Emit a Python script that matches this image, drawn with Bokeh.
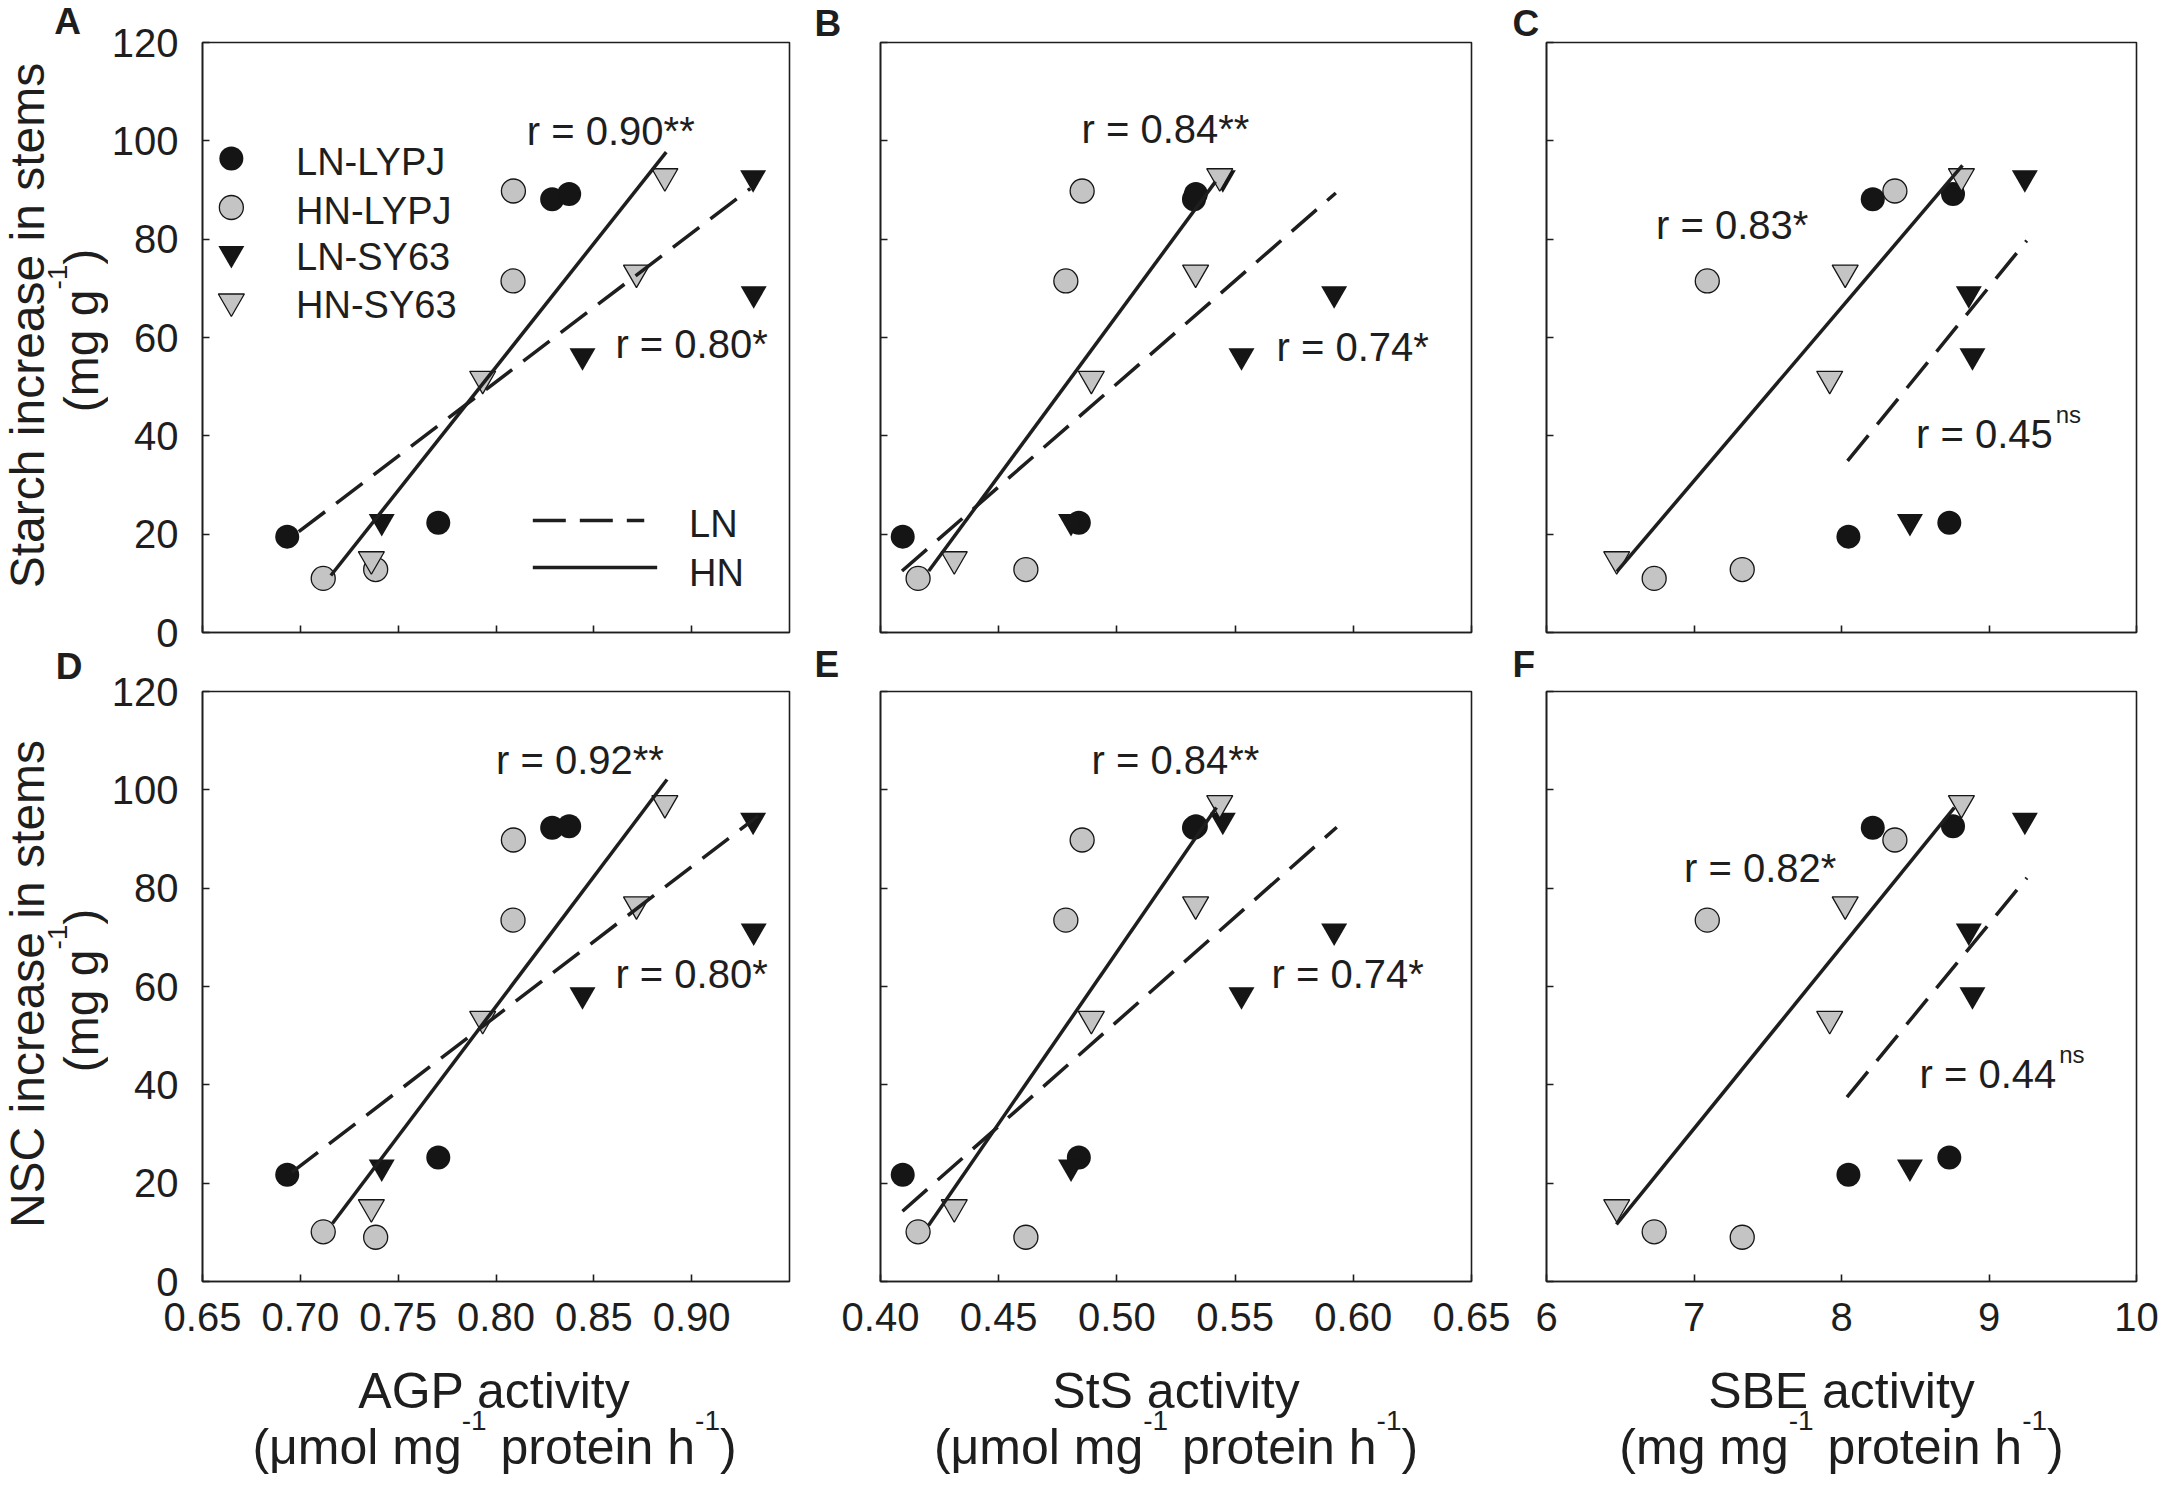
import math
from bokeh.plotting import figure
from bokeh.models import Range1d, FixedTicker, NumeralTickFormatter, Label, CustomJSTickFormatter, Title
from bokeh.layouts import column, row
from bokeh.embed import file_html
from bokeh.resources import INLINE

# ---------------- data ----------------
SERIES = ["LN-LYPJ", "HN-LYPJ", "LN-SY63", "HN-SY63"]

# enzyme activities (x) per series, 4 samples each
AGP_LN_LYPJ = [0.6933, 0.7705, 0.8287, 0.8374]
AGP_HN_LYPJ = [0.7117, 0.7385, 0.8087, 0.8089]
AGP_LN_SY63 = [0.7416, 0.8442, 0.9317, 0.9314]
AGP_HN_SY63 = [0.7363, 0.7932, 0.8718, 0.8863]

STS_LN_LYPJ = [0.4094, 0.4839, 0.5326, 0.5334]
STS_HN_LYPJ = [0.4159, 0.4615, 0.4784, 0.4853]
STS_LN_SY63 = [0.4806, 0.5527, 0.5919, 0.5448]
STS_HN_SY63 = [0.4312, 0.4892, 0.5333, 0.5435]

SBE_LN_LYPJ = [8.047, 8.731, 8.212, 8.756]
SBE_HN_LYPJ = [6.730, 7.327, 7.090, 8.362]
SBE_LN_SY63 = [8.464, 8.888, 8.863, 9.243]
SBE_HN_SY63 = [6.476, 7.920, 8.025, 8.813]

# starch increase (top row, y) and NSC increase (bottom row, y)
STARCH_LN_LYPJ = [19.5, 22.3, 88.1, 89.2]
STARCH_HN_LYPJ = [11.0, 12.8, 71.5, 89.8]
STARCH_LN_SY63 = [22.6, 56.3, 68.9, 92.5]
STARCH_HN_SY63 = [14.9, 51.6, 73.2, 92.8]

NSC_LN_LYPJ = [21.7, 25.2, 92.3, 92.6]
NSC_HN_LYPJ = [10.1, 9.0, 73.5, 89.8]
NSC_LN_SY63 = [23.3, 58.3, 71.3, 93.8]
NSC_HN_SY63 = [15.1, 53.4, 76.7, 97.3]

# regression lines (end points)
LINE_A_HN_X, LINE_A_HN_Y = [0.7156, 0.8870], [11.6, 97.7]
LINE_A_LN_X, LINE_A_LN_Y = [0.6992, 0.9300], [20.5, 90.3]
LINE_B_HN_X, LINE_B_HN_Y = [0.4204, 0.5417], [12.5, 91.7]
LINE_B_LN_X, LINE_B_LN_Y = [0.4091, 0.5926], [12.5, 89.4]
LINE_C_HN_X, LINE_C_HN_Y = [6.477, 8.820], [12.4, 95.0]
LINE_C_LN_X, LINE_C_LN_Y = [8.041, 9.256], [34.9, 79.7]
LINE_D_HN_X, LINE_D_HN_Y = [0.7164, 0.8874], [11.8, 102.1]
LINE_D_LN_X, LINE_D_LN_Y = [0.6956, 0.9340], [22.2, 94.7]
LINE_E_HN_X, LINE_E_HN_Y = [0.4203, 0.5421], [11.4, 96.4]
LINE_E_LN_X, LINE_E_LN_Y = [0.4093, 0.5930], [14.3, 92.4]
LINE_F_HN_X, LINE_F_HN_Y = [6.474, 8.765], [11.6, 96.4]
LINE_F_LN_X, LINE_F_LN_Y = [8.037, 9.257], [37.5, 82.1]

# correlation labels
R_A = ["r = 0.90**", "r = 0.80*"]
R_B = ["r = 0.84**", "r = 0.74*"]
R_C = ["r = 0.83*", "r = 0.45"]
R_D = ["r = 0.92**", "r = 0.80*"]
R_E = ["r = 0.84**", "r = 0.74*"]
R_F = ["r = 0.82*", "r = 0.44"]

# axes
Y_TICKS = [0, 20, 40, 60, 80, 100, 120]
AGP_TICKS = [0.65, 0.70, 0.75, 0.80, 0.85, 0.90]
STS_TICKS = [0.40, 0.45, 0.50, 0.55, 0.60, 0.65]
SBE_TICKS = [6, 7, 8, 9, 10]

X_TITLE_1 = ["AGP activity", "StS activity", "SBE activity"]
X_TITLE_2 = ["(μmol mg", "(μmol mg", "(mg mg"]
Y_TITLE_1 = ["Starch increase in stems", "NSC increase in stems"]
Y_TITLE_2 = "(mg g"
SUP = "-1"

# ---------------- styling / layout ----------------
FONT = "Liberation Sans"
TXT = "#1e1e1e"
BLACK = "#151515"
GRAY = "#c4c4c4"
PAGE = 8      # page margin: canvas = picture - 8
ASC = 0.78    # distance (em) from a "top"-anchored label to its baseline
MID_FIX = 3   # px: "middle" anchor sits a little above the digit centre

# reference-pixel frames (used to place annotation texts relative to the frames)
FRAME_X = [(207, 797), (888, 1479), (1560, 2150)]
FRAME_Y = [(50, 640), (699, 1289)]
TOTAL_W, TOTAL_H = 2159, 1476
GUTTER_W = 108
COL_W = [700, 703, 648]
COL_BL = [91, 72, 35]
COL_BR = [19, 40, 23]
TOP_H = 1350
# per column: (top fig height, top border, bottom border), (bottom fig height, top border, bottom border)
COL_ROWS = [((661, 42, 29), (689, 30, 69)),
            ((634, 42, 2), (716, 57, 69)),
            ((634, 42, 2), (716, 57, 69))]
LETTER_OFFSET = [None, -66, -34]
LETTER_STANDOFF = [-2, 13]


def frame_canvas_x(col):
    x0 = GUTTER_W + sum(COL_W[:col]) + COL_BL[col]
    return x0, x0 + COL_W[col] - COL_BL[col] - COL_BR[col]


W = {' ': 278, '(': 333, ')': 333, '-': 333, '1': 556, 'μ': 576, 'm': 833, 'o': 556, 'l': 222,
     'g': 556, 'p': 556, 'r': 333, 't': 278, 'e': 556, 'i': 222, 'n': 556, 'h': 556,
     's': 500, 'a': 556, 'c': 500, 'y': 500, 'v': 500, '.': 278, '=': 584, '*': 389}


def text_width(s, size):
    return sum(W.get(ch, 556) for ch in s) / 1000.0 * size


class Pan:
    def __init__(self, col, rowi, xr):
        self.col, self.rowi, self.xr = col, rowi, xr

    def px2data(self, sx, sy):
        fx0, fx1 = FRAME_X[self.col]
        fy0, fy1 = FRAME_Y[self.rowi]
        x = self.xr[0] + (sx - fx0) / (fx1 - fx0) * (self.xr[1] - self.xr[0])
        y = 120.0 * (fy1 - sy) / (fy1 - fy0)
        return x, y


def add_text(p, pan, sx, sy, text, size, align="left"):
    x, y = pan.px2data(sx, sy + MID_FIX)
    p.add_layout(Label(x=x, y=y, text=text, text_font=FONT, text_font_size=f"{size}px",
                       text_color=TXT, text_align=align, text_baseline="middle"))


def text_fig(w, h, x0, y0):
    """A figure without axes whose data coordinates are canvas pixels."""
    f = figure(width=w, height=h, x_range=Range1d(x0, x0 + w), y_range=Range1d(y0 + h, y0),
               x_axis_type=None, y_axis_type=None, output_backend="svg", toolbar_location=None,
               min_border_left=0, min_border_right=0, min_border_top=0, min_border_bottom=0)
    f.outline_line_color = None
    f.background_fill_color = "white"
    f.border_fill_color = "white"
    f.grid.visible = False
    return f


def canvas_label(f, cx, cy, text, size, align="left", baseline="top", angle=0.0, bold=False):
    f.add_layout(Label(x=cx, y=cy, text=text, text_font=FONT, text_font_size=f"{size}px",
                       text_color=TXT, text_align=align, text_baseline=baseline, angle=angle,
                       text_font_style="bold" if bold else "normal"))


def run_advance(t, s):
    return text_width(t, s)


def runs_h(f, cx, base_y, runs):
    """Horizontal text made of runs (text, size, rise) sharing one baseline.
    Leading spaces are turned into a cursor advance (SVG would collapse them)."""
    total = sum(text_width(t, s) for t, s, _ in runs)
    cur = cx - total / 2
    for t, s, rise in runs:
        stripped = t.lstrip(" ")
        cur += text_width(t[:len(t) - len(stripped)], s)
        canvas_label(f, cur, base_y - rise - ASC * s, stripped, s)
        cur += text_width(stripped, s)


def runs_v(f, base_x, cy, runs):
    """Same, rotated to read upwards; the top of the glyphs points left."""
    total = sum(text_width(t, s) for t, s, _ in runs)
    cur = cy + total / 2
    for t, s, rise in runs:
        stripped = t.lstrip(" ")
        cur -= text_width(t[:len(t) - len(stripped)], s)
        canvas_label(f, base_x - rise - ASC * s, cur, stripped, s, angle=math.pi / 2)
        cur -= text_width(stripped, s)


STYLES = [("circle", BLACK, BLACK, 0.0),
          ("circle", GRAY, BLACK, 1.3),
          ("inverted_triangle", BLACK, BLACK, 0.0),
          ("inverted_triangle", GRAY, BLACK, 1.3)]
SIZES = {"circle": 24, "inverted_triangle": 26}
LINE_W = 3.5
DASH = "33 14"

PANELS = [
    dict(key="A", col=0, rowi=0, xs=[AGP_LN_LYPJ, AGP_HN_LYPJ, AGP_LN_SY63, AGP_HN_SY63],
         ys=[STARCH_LN_LYPJ, STARCH_HN_LYPJ, STARCH_LN_SY63, STARCH_HN_SY63],
         xr=(0.65, 0.95), ticks=AGP_TICKS, fmt="0.00",
         hn=(LINE_A_HN_X, LINE_A_HN_Y), ln=(LINE_A_LN_X, LINE_A_LN_Y),
         r=R_A, rpos=[(533, 135), (622, 348)], ns=False),
    dict(key="B", col=1, rowi=0, xs=[STS_LN_LYPJ, STS_HN_LYPJ, STS_LN_SY63, STS_HN_SY63],
         ys=[STARCH_LN_LYPJ, STARCH_HN_LYPJ, STARCH_LN_SY63, STARCH_HN_SY63],
         xr=(0.40, 0.65), ticks=STS_TICKS, fmt="0.00",
         hn=(LINE_B_HN_X, LINE_B_HN_Y), ln=(LINE_B_LN_X, LINE_B_LN_Y),
         r=R_B, rpos=[(1089, 133), (1284, 351)], ns=False),
    dict(key="C", col=2, rowi=0, xs=[SBE_LN_LYPJ, SBE_HN_LYPJ, SBE_LN_SY63, SBE_HN_SY63],
         ys=[STARCH_LN_LYPJ, STARCH_HN_LYPJ, STARCH_LN_SY63, STARCH_HN_SY63],
         xr=(6, 10), ticks=SBE_TICKS, fmt="0",
         hn=(LINE_C_HN_X, LINE_C_HN_Y), ln=(LINE_C_LN_X, LINE_C_LN_Y),
         r=R_C, rpos=[(1669.5, 229), (1929.5, 438)], ns=True),
    dict(key="D", col=0, rowi=1, xs=[AGP_LN_LYPJ, AGP_HN_LYPJ, AGP_LN_SY63, AGP_HN_SY63],
         ys=[NSC_LN_LYPJ, NSC_HN_LYPJ, NSC_LN_SY63, NSC_HN_SY63],
         xr=(0.65, 0.95), ticks=AGP_TICKS, fmt="0.00",
         hn=(LINE_D_HN_X, LINE_D_HN_Y), ln=(LINE_D_LN_X, LINE_D_LN_Y),
         r=R_D, rpos=[(502, 764), (622, 978)], ns=False),
    dict(key="E", col=1, rowi=1, xs=[STS_LN_LYPJ, STS_HN_LYPJ, STS_LN_SY63, STS_HN_SY63],
         ys=[NSC_LN_LYPJ, NSC_HN_LYPJ, NSC_LN_SY63, NSC_HN_SY63],
         xr=(0.40, 0.65), ticks=STS_TICKS, fmt="0.00",
         hn=(LINE_E_HN_X, LINE_E_HN_Y), ln=(LINE_E_LN_X, LINE_E_LN_Y),
         r=R_E, rpos=[(1099, 764), (1279, 978)], ns=False),
    dict(key="F", col=2, rowi=1, xs=[SBE_LN_LYPJ, SBE_HN_LYPJ, SBE_LN_SY63, SBE_HN_SY63],
         ys=[NSC_LN_LYPJ, NSC_HN_LYPJ, NSC_LN_SY63, NSC_HN_SY63],
         xr=(6, 10), ticks=SBE_TICKS, fmt="0",
         hn=(LINE_F_HN_X, LINE_F_HN_Y), ln=(LINE_F_LN_X, LINE_F_LN_Y),
         r=R_F, rpos=[(1697.5, 872), (1933, 1078)], ns=True),
]


def empty_labels(ax):
    ax.formatter = CustomJSTickFormatter(code="return ''")
    ax.major_label_text_font_size = "0px"
    ax.major_label_standoff = 0


figs = {}
for spec in PANELS:
    col, ri = spec["col"], spec["rowi"]
    h, bt, bb = COL_ROWS[col][ri]
    pan = Pan(col, ri, spec["xr"])
    p = figure(width=COL_W[col], height=h, output_backend="svg", toolbar_location=None,
               x_range=Range1d(*spec["xr"]), y_range=Range1d(0, 120),
               min_border_left=COL_BL[col], min_border_right=COL_BR[col],
               min_border_top=bt, min_border_bottom=bb)
    p.grid.visible = False
    p.background_fill_color = "white"
    p.border_fill_color = "white"
    p.outline_line_color = TXT
    p.outline_line_width = 1.6
    for ax in (p.xaxis[0], p.yaxis[0]):
        ax.minor_tick_line_color = None
        ax.major_tick_in = 7
        ax.major_tick_out = 0
        ax.axis_line_width = 1.6
        ax.axis_line_color = TXT
        ax.major_tick_line_color = TXT
        ax.major_tick_line_width = 1.6
        ax.major_label_text_font = FONT
        ax.major_label_text_font_size = "40px"
        ax.major_label_text_color = TXT
    p.xaxis.ticker = FixedTicker(ticks=spec["ticks"])
    p.yaxis.ticker = FixedTicker(ticks=Y_TICKS)
    p.xaxis.major_label_standoff = 21
    p.yaxis.major_label_standoff = 24
    if ri == 1:
        p.xaxis.formatter = NumeralTickFormatter(format=spec["fmt"])
    else:
        empty_labels(p.xaxis[0])
    if col != 0:
        empty_labels(p.yaxis[0])

    # panel letters of the 2nd and 3rd columns (title above the frame)
    if col != 0:
        p.add_layout(Title(text=spec["key"], align="left", offset=LETTER_OFFSET[col],
                           text_font=FONT, text_font_size="37px", text_font_style="bold",
                           text_color=TXT, standoff=LETTER_STANDOFF[ri]), "above")

    # points
    for name, xs, ys, (mk, fill, line, lw) in zip(SERIES, spec["xs"], spec["ys"], STYLES):
        p.scatter(xs, ys, marker=mk, size=SIZES[mk], fill_color=fill,
                  line_color=line, line_width=lw if lw > 0 else 1, line_alpha=1.0 if lw > 0 else 0.0)
    # regression lines
    p.line(spec["ln"][0], spec["ln"][1], line_color=TXT, line_width=LINE_W, line_dash=DASH)
    p.line(spec["hn"][0], spec["hn"][1], line_color=TXT, line_width=LINE_W)

    # correlation labels
    for txt, (sx, sy) in zip(spec["r"], spec["rpos"]):
        add_text(p, pan, sx, sy, txt, 40)
    if spec["ns"]:
        sx, sy = spec["rpos"][1]
        add_text(p, pan, sx + text_width(spec["r"][1], 40) + 3, sy - 19, "ns", 24)

    # legends in panel A
    if spec["key"] == "A":
        rows_y = [166, 215, 261, 309]
        for name, sy, (mk, fill, line, lw) in zip(SERIES, rows_y, STYLES):
            mx, my = pan.px2data(236, sy)
            p.scatter([mx], [my], marker=mk, size=SIZES[mk], fill_color=fill,
                      line_color=line, line_width=lw if lw > 0 else 1, line_alpha=1.0 if lw > 0 else 0.0)
            add_text(p, pan, 301, sy, name, 38)
        x0, y0 = pan.px2data(539, 528)
        x1, _ = pan.px2data(651, 528)
        p.line([x0, x1], [y0, y0], line_color=TXT, line_width=LINE_W, line_dash=DASH)
        x0, y1 = pan.px2data(539, 575)
        x1, _ = pan.px2data(664, 575)
        p.line([x0, x1], [y1, y1], line_color=TXT, line_width=LINE_W)
        add_text(p, pan, 696, 528, "LN", 38)
        add_text(p, pan, 696, 577, "HN", 38)

    figs[spec["key"]] = p

# ---- left gutter: panel letters A, D and the y-axis titles ----
g0 = text_fig(GUTTER_W, TOP_H, 0, 0)
canvas_label(g0, 75 - PAGE, 0.5, "A", 37, align="center", bold=True)
canvas_label(g0, 76.5 - PAGE, 682 - PAGE - ASC * 37, "D", 37, align="center", bold=True)
YT_CENTER = [(333, 338), (991.5, 998)]
for ri in range(2):
    c1, c2 = YT_CENTER[ri]
    canvas_label(g0, 0.5, c1 - PAGE, Y_TITLE_1[ri], 48, align="center", angle=math.pi / 2)
    runs_v(g0, 100 - PAGE, c2 - PAGE, [(Y_TITLE_2, 48, 0), (SUP, 28, 23), (")", 48, 0)])

# ---- bottom strip: x-axis titles ----
strip = text_fig(TOTAL_W, TOTAL_H - TOP_H, 0, TOP_H)
XT_BASE = (1409 - PAGE, 1465 - PAGE)
for col in range(3):
    fx0, fx1 = frame_canvas_x(col)
    cx = (fx0 + fx1) / 2
    canvas_label(strip, cx, XT_BASE[0] - ASC * 50, X_TITLE_1[col], 50, align="center")
    runs_h(strip, cx, XT_BASE[1], [(X_TITLE_2[col], 50, 0), (SUP, 28, 25), (" protein h", 50, 0),
                                   (SUP, 28, 25), (")", 50, 0)])

top = row(g0, column(figs["A"], figs["D"]), column(figs["B"], figs["E"]), column(figs["C"], figs["F"]))
layout = column(top, strip)
open("out.html", "w", encoding="utf-8").write(file_html(layout, INLINE))
